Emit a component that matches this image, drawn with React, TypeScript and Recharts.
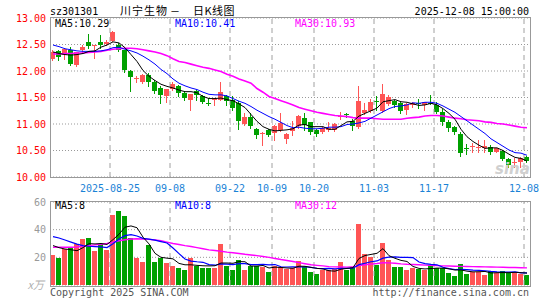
import React from "react";
import { Bar, CartesianGrid, ComposedChart, Line, ReferenceLine, XAxis, YAxis } from "recharts";

const RED = "#ff5555";
const GREEN = "#00a000";
const MA5_C = "#000000";
const MA10_C = "#0000ff";
const MA30_C = "#ff00ff";
const MONO = "'DejaVu Sans Mono', monospace";
const CJK = "'Noto Sans CJK SC', sans-serif";

const dates = [
  "2025-08-11", "2025-08-12", "2025-08-13", "2025-08-14", "2025-08-15",
  "2025-08-18", "2025-08-19", "2025-08-20", "2025-08-21", "2025-08-22",
  "2025-08-25", "2025-08-26", "2025-08-27", "2025-08-28", "2025-08-29",
  "2025-09-01", "2025-09-02", "2025-09-03", "2025-09-04", "2025-09-05",
  "2025-09-08", "2025-09-09", "2025-09-10", "2025-09-11", "2025-09-12",
  "2025-09-15", "2025-09-16", "2025-09-17", "2025-09-18", "2025-09-19",
  "2025-09-22", "2025-09-23", "2025-09-24", "2025-09-25", "2025-09-26",
  "2025-09-29", "2025-09-30", "2025-10-09", "2025-10-10", "2025-10-13",
  "2025-10-14", "2025-10-15", "2025-10-16", "2025-10-17", "2025-10-20",
  "2025-10-21", "2025-10-22", "2025-10-23", "2025-10-24", "2025-10-27",
  "2025-10-28", "2025-10-29", "2025-10-30", "2025-10-31", "2025-11-03",
  "2025-11-04", "2025-11-05", "2025-11-06", "2025-11-07", "2025-11-10",
  "2025-11-11", "2025-11-12", "2025-11-13", "2025-11-14", "2025-11-17",
  "2025-11-18", "2025-11-19", "2025-11-20", "2025-11-21", "2025-11-24",
  "2025-11-25", "2025-11-26", "2025-11-27", "2025-11-28", "2025-12-01",
  "2025-12-02", "2025-12-03", "2025-12-04", "2025-12-05", "2025-12-08",
];

const open = [
  12.22, 12.37, 12.31, 12.40, 12.12, 12.39, 12.54, 12.48, 12.55, 12.51,
  12.57, 12.49, 12.39, 12.00, 11.85, 11.79, 11.93, 11.80, 11.68, 11.53,
  11.66, 11.71, 11.58, 11.46, 11.62, 11.52, 11.40, 11.47, 11.46, 11.52,
  11.45, 11.40, 11.00, 11.13, 10.91, 10.82, 10.89, 10.83, 10.89, 10.72,
  10.87, 10.97, 11.11, 11.03, 10.89, 10.84, 10.88, 10.89, 11.15, 11.19,
  11.06, 10.95, 11.21, 11.24, 11.44, 11.25, 11.38, 11.44, 11.39, 11.26,
  11.35, 11.40, 11.35, 11.40, 11.36, 11.22, 11.04, 10.95, 10.81, 10.55,
  10.57, 10.56, 10.55, 10.57, 10.48, 10.50, 10.34, 10.28, 10.29, 10.38,
];
const high = [
  12.40, 12.40, 12.43, 12.45, 12.36, 12.49, 12.69, 12.49, 12.68, 12.59,
  12.76, 12.53, 12.40, 12.01, 11.90, 11.95, 11.96, 11.83, 11.71, 11.66,
  11.80, 11.74, 11.62, 11.57, 11.65, 11.55, 11.49, 11.49, 11.80, 11.55,
  11.53, 11.43, 11.20, 11.21, 10.92, 10.85, 10.91, 10.99, 11.21, 10.83,
  11.05, 11.17, 11.20, 11.04, 10.91, 10.94, 11.04, 11.01, 11.23, 11.20,
  11.09, 11.72, 11.39, 11.47, 11.52, 11.75, 11.55, 11.45, 11.41, 11.39,
  11.42, 11.48, 11.41, 11.55, 11.42, 11.28, 11.07, 10.96, 10.84, 10.62,
  10.65, 10.70, 10.70, 10.60, 10.55, 10.51, 10.36, 10.36, 10.38, 10.40,
];
const low = [
  12.20, 12.20, 12.23, 12.12, 12.10, 12.34, 12.43, 12.24, 12.43, 12.49,
  12.56, 12.37, 11.99, 11.63, 11.80, 11.77, 11.72, 11.58, 11.40, 11.41,
  11.65, 11.52, 11.46, 11.27, 11.45, 11.40, 11.35, 11.35, 11.45, 11.36,
  11.27, 10.91, 10.99, 10.93, 10.74, 10.60, 10.78, 10.69, 10.86, 10.64,
  10.80, 10.92, 10.89, 10.81, 10.78, 10.83, 10.86, 10.87, 11.09, 11.14,
  10.89, 10.92, 11.18, 11.22, 11.26, 11.23, 11.36, 11.33, 11.20, 11.18,
  11.32, 11.31, 11.26, 11.37, 11.20, 10.99, 10.87, 10.81, 10.40, 10.43,
  10.48, 10.48, 10.48, 10.43, 10.47, 10.32, 10.19, 10.19, 10.19, 10.29,
];
const close = [
  12.36, 12.27, 12.42, 12.13, 12.35, 12.46, 12.48, 12.49, 12.49, 12.55,
  12.74, 12.39, 12.01, 11.88, 11.86, 11.93, 11.80, 11.63, 11.55, 11.66,
  11.76, 11.58, 11.50, 11.57, 11.55, 11.41, 11.39, 11.48, 11.61, 11.43,
  11.31, 11.05, 11.13, 10.96, 10.80, 10.83, 10.80, 10.96, 11.02, 10.82,
  10.93, 11.16, 10.99, 10.84, 10.81, 10.93, 10.93, 11.00, 11.16, 11.18,
  10.97, 11.43, 11.26, 11.41, 11.43, 11.56, 11.51, 11.36, 11.25, 11.37,
  11.39, 11.39, 11.41, 11.39, 11.23, 11.04, 10.93, 10.84, 10.45, 10.54,
  10.58, 10.57, 10.58, 10.47, 10.54, 10.34, 10.23, 10.29, 10.35, 10.30,
];

const ma5 = [
  12.36, 12.33, 12.31, 12.30, 12.31, 12.33, 12.37, 12.38, 12.45, 12.49,
  12.55, 12.53, 12.44, 12.31, 12.18, 12.01, 11.90, 11.82, 11.75, 11.71,
  11.68, 11.64, 11.61, 11.61, 11.59, 11.52, 11.48, 11.48, 11.49, 11.46,
  11.44, 11.38, 11.31, 11.18, 11.05, 10.95, 10.90, 10.87, 10.88, 10.89,
  10.91, 10.98, 10.99, 10.95, 10.95, 10.95, 10.90, 10.90, 10.97, 11.04,
  11.05, 11.15, 11.20, 11.25, 11.30, 11.42, 11.44, 11.46, 11.42, 11.41,
  11.38, 11.35, 11.36, 11.39, 11.36, 11.29, 11.20, 11.09, 10.90, 10.76,
  10.67, 10.60, 10.54, 10.55, 10.55, 10.50, 10.43, 10.37, 10.35, 10.30,
];
const ma10 = [
  12.49, 12.46, 12.42, 12.40, 12.38, 12.37, 12.37, 12.37, 12.38, 12.40,
  12.44, 12.45, 12.41, 12.38, 12.34, 12.28, 12.21, 12.13, 12.03, 11.95,
  11.85, 11.77, 11.72, 11.68, 11.65, 11.60, 11.56, 11.55, 11.55, 11.53,
  11.48, 11.43, 11.39, 11.33, 11.26, 11.20, 11.14, 11.09, 11.03, 10.97,
  10.93, 10.94, 10.92, 10.91, 10.91, 10.92, 10.94, 10.94, 10.95, 10.99,
  11.00, 11.02, 11.05, 11.11, 11.17, 11.23, 11.29, 11.33, 11.34, 11.36,
  11.40, 11.39, 11.41, 11.41, 11.39, 11.34, 11.28, 11.22, 11.14, 11.06,
  10.98, 10.90, 10.82, 10.72, 10.65, 10.58, 10.51, 10.46, 10.45, 10.41,
];
const ma30 = [
  12.32, 12.32, 12.33, 12.33, 12.34, 12.34, 12.35, 12.36, 12.37, 12.39,
  12.41, 12.42, 12.43, 12.43, 12.42, 12.40, 12.38, 12.36, 12.33, 12.29,
  12.23, 12.18, 12.16, 12.13, 12.10, 12.07, 12.05, 12.02, 11.99, 11.94,
  11.90, 11.85, 11.81, 11.77, 11.67, 11.60, 11.52, 11.48, 11.44, 11.40,
  11.36, 11.31, 11.28, 11.25, 11.22, 11.20, 11.18, 11.16, 11.15, 11.14,
  11.12, 11.11, 11.11, 11.11, 11.10, 11.09, 11.09, 11.09, 11.09, 11.11,
  11.12, 11.13, 11.15, 11.16, 11.16, 11.15, 11.13, 11.11, 11.10, 11.08,
  11.07, 11.06, 11.04, 11.03, 11.01, 11.00, 10.98, 10.96, 10.94, 10.93,
];

const volume = [
  22, 19.3, 26, 27.5, 29.3, 32.9, 33.7, 24.9, 29.3, 25.6,
  50.5, 53.4, 50, 34, 19.3, 16.3, 28.8, 16.3, 19.5, 15.9,
  13.9, 12.6, 11.2, 19.3, 13.9, 12.4, 12, 12, 29.3, 13.9,
  11.2, 18.3, 11.2, 13.9, 13.9, 13.2, 9.5, 13.9, 13.2, 11.5,
  12.5, 17, 13.3, 9.3, 8, 10.5, 10.5, 11.5, 16.5, 11,
  13, 43.8, 22.4, 20.5, 14.6, 30.3, 18, 13, 13, 10.8,
  12, 11.4, 11, 14.5, 12, 12, 8.8, 6.5, 15, 7.9,
  9.3, 9.3, 7.3, 9.8, 8.8, 9.8, 8.8, 8.8, 8.2, 7.3,
];
const vma5 = [
  28.5, 27, 26, 25.5, 24.8, 27.0, 29.9, 29.7, 30.0, 29.3,
  32.8, 36.7, 41.8, 42.7, 41.4, 34.6, 29.7, 22.9, 20.0, 19.4,
  18.9, 15.6, 14.6, 14.6, 14.2, 13.9, 13.8, 13.9, 15.9, 15.9,
  15.7, 16.9, 16.8, 13.7, 13.7, 14.1, 12.3, 12.9, 12.7, 12.3,
  12.1, 13.6, 13.5, 12.7, 12.0, 11.6, 10.3, 10.0, 11.4, 12.0,
  12.5, 19.2, 21.3, 22.1, 22.9, 26.3, 21.2, 19.3, 17.8, 17.0,
  13.4, 12.0, 11.6, 11.9, 12.2, 12.2, 11.7, 10.8, 10.9, 10.0,
  9.5, 9.6, 9.8, 8.7, 8.9, 9.0, 8.9, 9.2, 8.9, 8.6,
];
const vma10 = [
  35, 34, 32.5, 31, 29.5, 28.5, 28, 27.8, 27.5, 27.1,
  29.9, 33.3, 35.7, 36.4, 35.4, 33.7, 33.2, 32.4, 31.4, 30.4,
  26.7, 22.7, 18.8, 17.3, 16.8, 16.4, 14.7, 14.3, 15.3, 15.1,
  14.8, 15.4, 15.4, 14.8, 14.8, 14.9, 14.6, 14.8, 13.2, 13.0,
  13.1, 13.0, 13.2, 12.7, 12.1, 11.9, 12.0, 11.7, 12.1, 12.0,
  12.1, 14.7, 15.7, 16.8, 17.4, 19.4, 20.2, 20.3, 20.0, 19.9,
  19.8, 16.6, 15.5, 14.9, 14.6, 12.8, 11.9, 11.2, 11.4, 11.1,
  10.8, 10.6, 10.3, 9.8, 9.5, 9.3, 9.3, 9.5, 8.8, 8.7,
];
const vma30 = [
  27.3, 27.3, 27.3, 27.3, 27.5, 28, 28.5, 29, 29.5, 30,
  31, 32, 32.7, 33.2, 33.4, 33.3, 33, 32.5, 32, 31,
  30, 29.3, 28.5, 27.8, 27, 26.2, 25.4, 24.9, 24.4, 23.8,
  23.3, 22.8, 22.2, 21.7, 21.2, 20.6, 20, 19.2, 18.4, 17.7,
  17, 16.2, 15.4, 14.6, 14.2, 13.8, 13.3, 13.1, 13, 12.9,
  13.2, 14, 14.6, 15.1, 15.5, 16.1, 16, 15.7, 15.3, 15,
  14.8, 14.6, 14.4, 14.2, 14, 13.8, 13.7, 13.6, 13.5, 13.4,
  13.3, 13.2, 13.1, 13, 12.9, 12.8, 12.7, 12.6, 12.5, 12.4,
];

const priceTicks = [10, 10.5, 11, 11.5, 12, 12.5, 13];
const volTicks = [0, 20, 40, 60];
const tickDates = ["2025-08-25", "2025-09-08", "2025-09-22", "2025-10-09", "2025-10-20", "2025-11-03", "2025-11-17", "2025-12-08"];
const tickLabels = ["2025-08-25", "09-08", "09-22", "10-09", "10-20", "11-03", "11-17", "12-08"];

const rows = dates.map((date, i) => ({
  date,
  open: open[i],
  high: high[i],
  low: low[i],
  close: close[i],
  ma5: ma5[i],
  ma10: ma10[i],
  ma30: ma30[i],
  volume: volume[i],
  vma5: vma5[i],
  vma10: vma10[i],
  vma30: vma30[i],
}));

function Candle(props: any) {
  const { x, y, width, height, payload } = props;
  const { open: o, close: c, high: h, low: l } = payload;
  const k = h > l ? height / (h - l) : 0;
  const py = (v: number) => y + (h - v) * k;
  const color = c >= o ? RED : GREEN;
  const left = Math.round(x);
  const w = Math.max(1, Math.round(width) - 1);
  const mid = left + Math.floor(w / 2) + 0.5;
  const top = Math.round(py(Math.max(o, c)));
  const bot = Math.round(py(Math.min(o, c)));
  return (
    <g shapeRendering="crispEdges">
      <line x1={mid} x2={mid} y1={Math.round(y)} y2={Math.round(y + height) + 1} stroke={color} strokeWidth={1} />
      <rect x={left} y={top} width={w} height={Math.max(1, bot - top)} fill={color} />
    </g>
  );
}

function VolBar(props: any) {
  const { x, y, width, height, payload } = props;
  const color = payload.close >= payload.open ? RED : GREEN;
  const top = Math.round(y);
  return (
    <rect
      x={Math.round(x)}
      y={top}
      width={Math.max(1, Math.round(width) - 1)}
      height={Math.max(0, Math.round(y + height) - top)}
      fill={color}
      shapeRendering="crispEdges"
    />
  );
}

const PriceTick = ({ x, y, payload }: any) => (
  <text x={x} y={y + 3.6} textAnchor="end" fontSize={10} fontFamily={MONO} fill="#ff0000">
    {Number(payload.value).toFixed(2)}
  </text>
);

const VolTick = ({ x, y, payload }: any) =>
  payload.value === 0 ? (
    <text x={x - 2} y={y + 4} textAnchor="end" fontSize={11} fontFamily={CJK} fill="#b0b0b0" fontStyle="italic">
      x万
    </text>
  ) : (
    <text x={x} y={y + 3.6} textAnchor="end" fontSize={10} fontFamily={MONO} fill="#999999">
      {payload.value}
    </text>
  );

const DateTick = ({ x, y, payload }: any) => {
  const k = tickDates.indexOf(payload.value);
  const half = payload.offset ?? 3;
  return (
    <text x={x - half} y={y + 15} textAnchor="middle" fontSize={10} fontFamily={MONO} fill="#1a82d6">
      {tickLabels[k]}
    </text>
  );
};

const gridLines = tickDates.map((d) => (
  <ReferenceLine key={d} x={d} position="start" stroke="#a0a0a0" strokeDasharray="5 4" />
));

const frame = (top: number, height: number): React.CSSProperties => ({
  position: "absolute",
  left: 50,
  top,
  width: 481,
  height,
  boxSizing: "border-box",
  border: "1px solid #999",
  pointerEvents: "none",
});

export default function App() {
  return (
    <div style={{ position: "absolute", left: 0, top: 0, width: 545, height: 300, background: "#fff", overflow: "hidden" }}>
      <div style={{ position: "absolute", left: 0, top: 0 }}>
        <ComposedChart width={545} height={200} data={rows} margin={{ top: 18, right: 15, bottom: 0, left: 0 }} barCategoryGap={0}>
          <CartesianGrid vertical={false} stroke="#999" strokeDasharray="1 2" />
          <XAxis
            dataKey="date"
            ticks={tickDates}
            interval={0}
            tickLine={false}
            axisLine={false}
            tickSize={0}
            tickMargin={0}
            height={23}
            tick={<DateTick />}
          />
          <YAxis
            domain={[10, 13]}
            ticks={priceTicks}
            allowDataOverflow
            width={50}
            tickLine={false}
            axisLine={false}
            tickSize={0}
            tickMargin={4}
            tick={<PriceTick />}
          />
          {gridLines}
          <Bar dataKey={(d: any) => [d.low, d.high]} shape={<Candle />} isAnimationActive={false} />
          <Line dataKey="ma30" stroke={MA30_C} strokeWidth={1.6} dot={false} activeDot={false} isAnimationActive={false} />
          <Line dataKey="ma10" stroke={MA10_C} strokeWidth={1} dot={false} activeDot={false} isAnimationActive={false} />
          <Line dataKey="ma5" stroke={MA5_C} strokeWidth={1} dot={false} activeDot={false} isAnimationActive={false} />
        </ComposedChart>
      </div>
      <div style={{ position: "absolute", left: 0, top: 190 }}>
        <ComposedChart width={545} height={110} data={rows} margin={{ top: 12, right: 15, bottom: 15, left: 0 }} barCategoryGap={0}>
          <CartesianGrid vertical={false} stroke="#999" strokeDasharray="1 2" />
          <XAxis dataKey="date" hide />
          <YAxis
            domain={[0, 60]}
            ticks={volTicks}
            allowDataOverflow
            width={50}
            tickLine={false}
            axisLine={false}
            tickSize={0}
            tickMargin={4}
            tick={<VolTick />}
          />
          {gridLines}
          <Bar dataKey="volume" shape={<VolBar />} isAnimationActive={false} />
          <Line dataKey="vma30" stroke={MA30_C} strokeWidth={1.4} dot={false} activeDot={false} isAnimationActive={false} />
          <Line dataKey="vma10" stroke={MA10_C} strokeWidth={1.2} dot={false} activeDot={false} isAnimationActive={false} />
          <Line dataKey="vma5" stroke={MA5_C} strokeWidth={1} dot={false} activeDot={false} isAnimationActive={false} />
        </ComposedChart>
      </div>
      <div style={frame(17, 161)} />
      <div style={frame(201, 86)} />
      <svg width={545} height={300} style={{ position: "absolute", left: 0, top: 0, pointerEvents: "none" }}>
        <text x={50} y={15} fontSize={10} fontFamily={MONO} fill="#000">sz301301</text>
        <text x={120} y={14.5} fontSize={11} letterSpacing={1} fontFamily={CJK} fill="#000">川宁生物</text>
        <text x={170} y={14.5} fontSize={10} fontFamily={CJK} fill="#000">－</text>
        <text x={193} y={14.5} fontSize={11} letterSpacing={0.5} fontFamily={CJK} fill="#000">日K线图</text>
        <text x={529} y={15} fontSize={10} fontFamily={MONO} fill="#000" textAnchor="end">2025-12-08 15:00:00</text>
        <text x={55} y={26.5} fontSize={10} fontFamily={MONO} fill={MA5_C}>MA5:10.29</text>
        <text x={175} y={26.5} fontSize={10} fontFamily={MONO} fill={MA10_C}>MA10:10.41</text>
        <text x={295} y={26.5} fontSize={10} fontFamily={MONO} fill={MA30_C}>MA30:10.93</text>
        <text x={495} y={174} fontSize={15} fontFamily="'DejaVu Sans', sans-serif" fontStyle="italic" fontWeight="bold" fill="#d0d0d0">sina</text>
        <text x={55} y={209} fontSize={10} fontFamily={MONO} fill={MA5_C}>MA5:8</text>
        <text x={175} y={209} fontSize={10} fontFamily={MONO} fill={MA10_C}>MA10:8</text>
        <text x={295} y={209} fontSize={10} fontFamily={MONO} fill={MA30_C}>MA30:12</text>
        <text x={50} y={296} fontSize={10} fontFamily={MONO} fill="#555">Copyright 2025 SINA.COM</text>
        <text x={529} y={296} fontSize={10} fontFamily={MONO} fill="#555" textAnchor="end">http://finance.sina.com.cn</text>
      </svg>
    </div>
  );
}
